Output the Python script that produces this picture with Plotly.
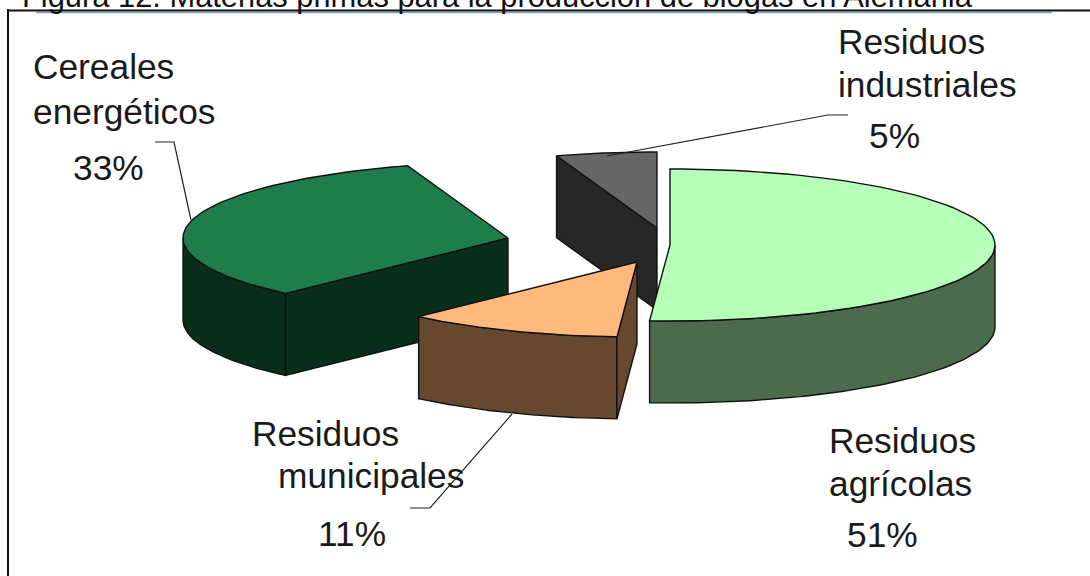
import numpy as np
import plotly.graph_objects as go

# Data
categories = ["Residuos agrícolas", "Residuos municipales", "Cereales energéticos", "Residuos industriales"]
shares = [51, 11, 33, 5]
share_labels = ["51%", "11%", "33%", "5%"]

title_text = "Figura 12. Materias primas para la producción de biogás en Alemania"

# Exploded-pie geometry (projection of each wedge on the page)
apex_x = [670, 637, 508, 657]
apex_y = [245, 262, 238, 228]
radius_x = [325, 319, 325, 325]
radius_y = [76, 75, 76, 76]
DEPTH = 82
top_colors = ["#b6ffb8", "#ffb97c", "#1f7d4b", "#666666"]
side_colors = ["#4b6b4c", "#66482f", "#0a2e1c", "#272727"]
draw_order = [2, 3, 0, 1]

W, H = 1090, 576
INK = "#111111"

cum = np.concatenate([[0], np.cumsum(shares)]) * 3.6
fig = go.Figure()


def ring(i, a, b, n=80):
    t = np.radians(np.linspace(a, b, n))
    return apex_x[i] + radius_x[i] * np.sin(t), apex_y[i] - radius_y[i] * np.cos(t)


def poly(x, y, color):
    fig.add_trace(go.Scatter(
        x=np.append(x, x[0]), y=np.append(y, y[0]), mode="lines", fill="toself",
        fillcolor=color, line=dict(color=INK, width=1.4), hoverinfo="skip", showlegend=False))


for i in draw_order:
    a, b = cum[i], cum[i + 1]
    cx, cy = apex_x[i], apex_y[i]
    # outer wall
    lo, hi = max(a, 90), min(b, 270)
    if hi > lo:
        x, y = ring(i, lo, hi)
        poly(np.concatenate([x, x[::-1]]), np.concatenate([y, y[::-1] + DEPTH]), side_colors[i])
    # radial wall at the wedge start
    if np.sin(np.radians(a)) < -1e-6:
        x, y = ring(i, a, a, 1)
        poly(np.array([cx, x[0], x[0], cx]), np.array([cy, y[0], y[0] + DEPTH, cy + DEPTH]), side_colors[i])
    # top face
    x, y = ring(i, a, b)
    poly(np.concatenate([[cx], x]), np.concatenate([[cy], y]), top_colors[i])

# Leader lines
leaders = [
    ([155, 174, 191], [142, 142, 220]),
    ([848, 828, 607], [115, 115, 156]),
    ([410, 430, 512], [508, 508, 414]),
]
for lx, ly in leaders:
    fig.add_trace(go.Scatter(x=lx, y=ly, mode="lines", line=dict(color="#222222", width=1.2),
                             hoverinfo="skip", showlegend=False))

# Text: each label line placed on its own
lines = [
    ("Cereales", 31, 66, "left"), ("energéticos", 31, 111, "left"), (share_labels[2], 108, 167, "center"),
    ("Residuos", 836, 41, "left"), ("industriales", 836, 84, "left"), (share_labels[3], 894, 135, "center"),
    ("Residuos", 250, 433, "left"), ("municipales", 276, 475, "left"), (share_labels[1], 352, 533, "center"),
    ("Residuos", 827, 440, "left"), ("agrícolas", 827, 483, "left"), (share_labels[0], 882, 534, "center"),
]
annotations = [dict(x=x, y=y, text=t, xref="x", yref="y", xanchor=an, yanchor="middle", showarrow=False,
                    font=dict(family="Liberation Sans", size=35.3, color="#1a1a1a")) for t, x, y, an in lines]
annotations.append(dict(x=20, y=0, text=title_text, xref="x", yref="y", xanchor="left", yanchor="middle",
                        yshift=4, showarrow=False, font=dict(family="Liberation Sans", size=30.85, color="#111111")))

shapes = [
    dict(type="line", x0=36, x1=1052, y0=12.5, y1=12.5, line=dict(color="#7f9fc8", width=1.5)),
    dict(type="line", x0=8, x1=8, y0=9, y1=576, line=dict(color="#111111", width=2)),
    dict(type="line", x0=7, x1=1090, y0=10.5, y1=10.5, line=dict(color="#111111", width=2)),
]

fig.update_layout(
    width=W, height=H, margin=dict(l=0, r=0, t=0, b=0), autosize=False,
    paper_bgcolor="white", plot_bgcolor="white", showlegend=False,
    xaxis=dict(range=[0, W], visible=False, fixedrange=True),
    yaxis=dict(range=[H, 0], visible=False, fixedrange=True),
    annotations=annotations, shapes=shapes,
)
fig.write_html("out.html", config={"displayModeBar": False},
               post_script="document.body.style.margin='0';document.documentElement.style.overflow='hidden';")
